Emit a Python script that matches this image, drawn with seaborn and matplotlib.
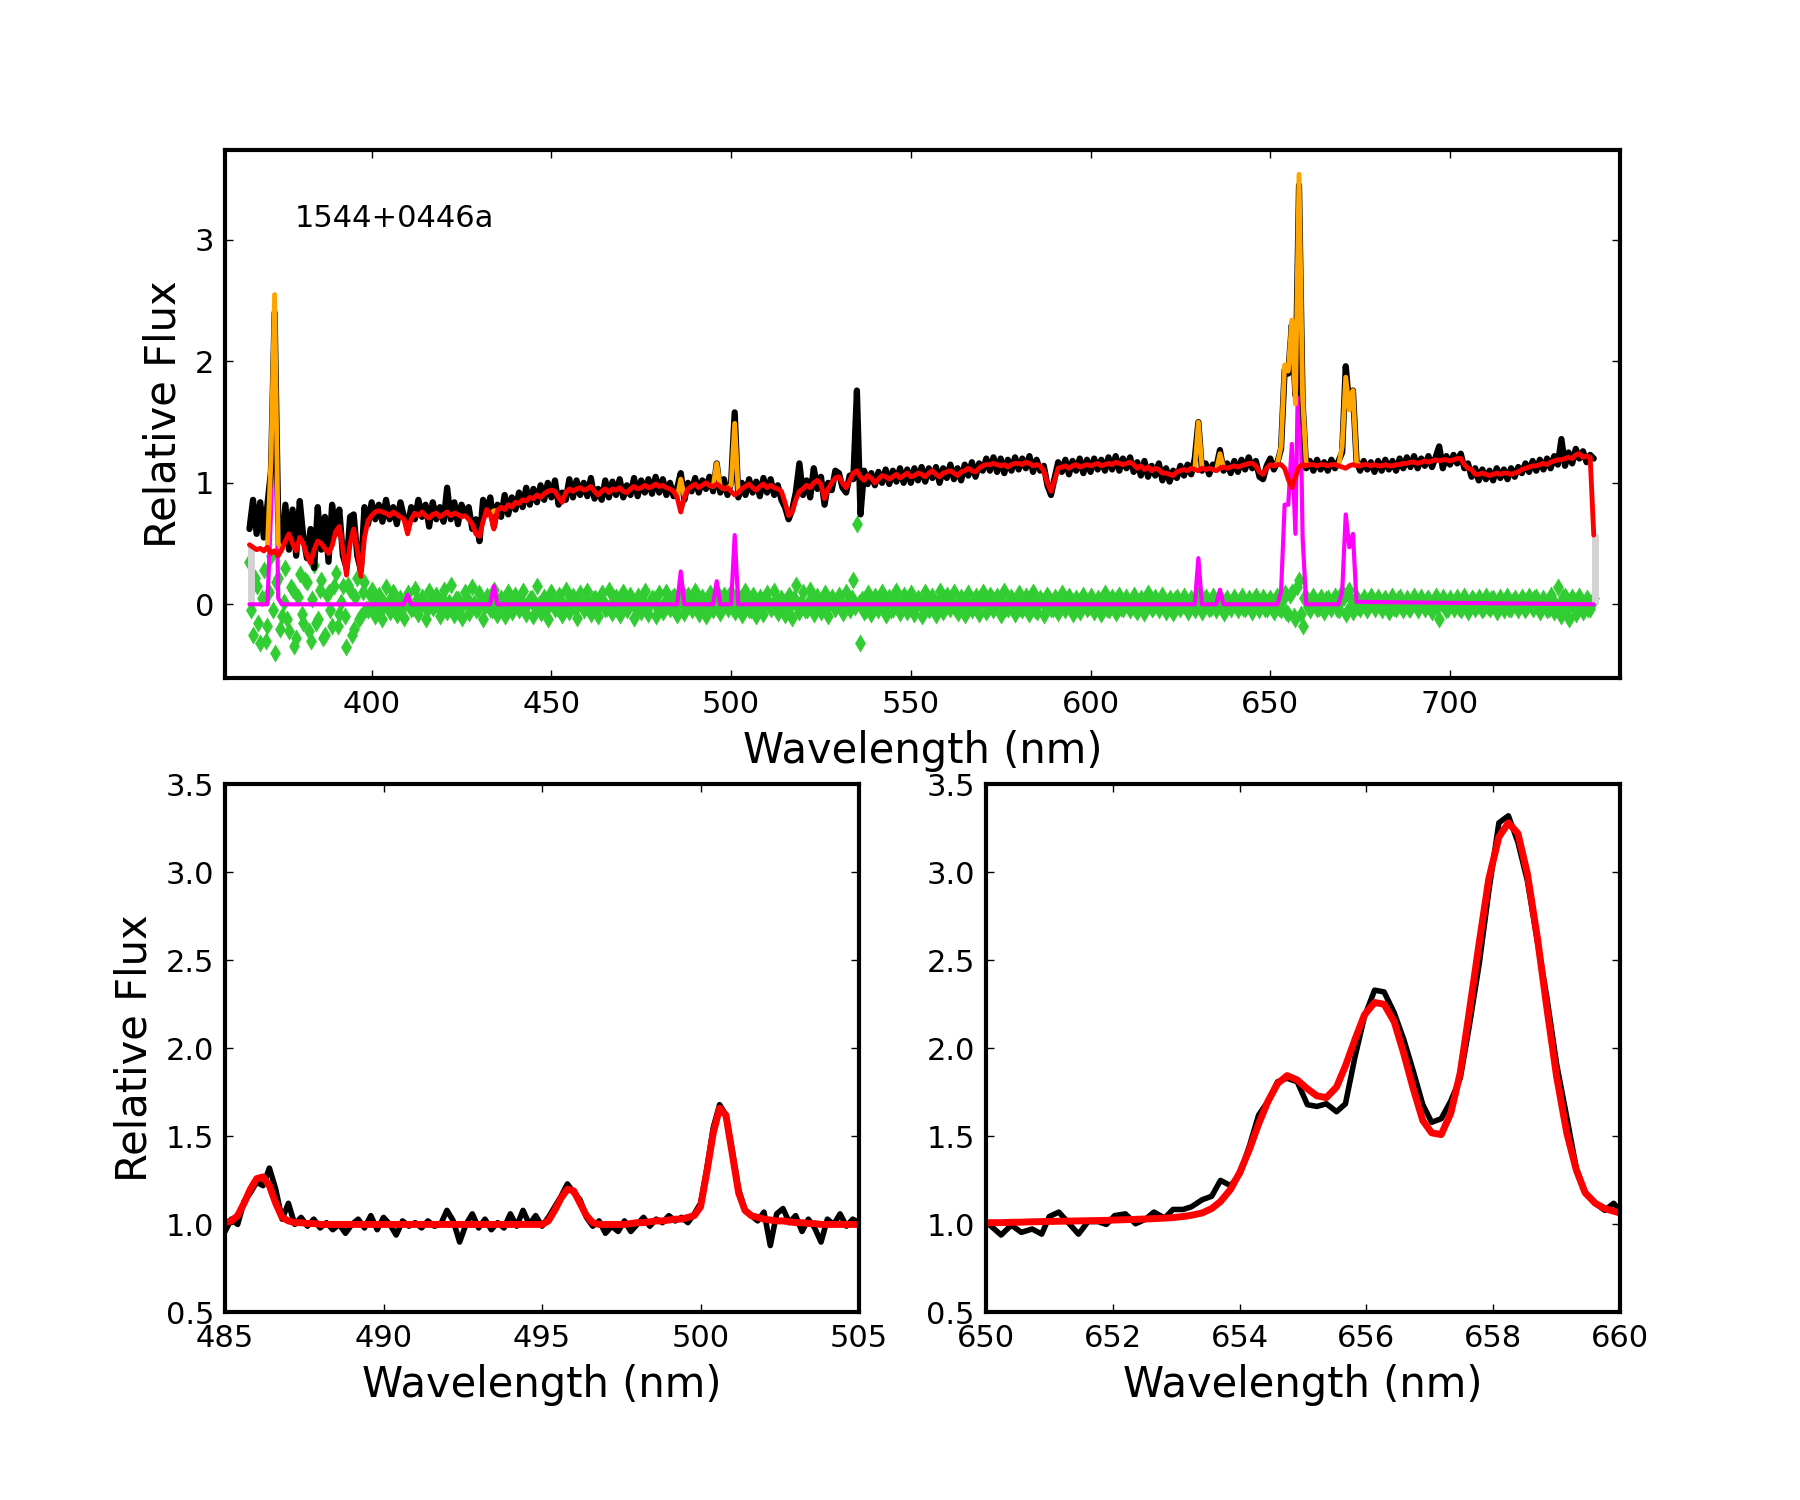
import numpy as np
import pandas as pd
import matplotlib
matplotlib.use('Agg')
import matplotlib.pyplot as plt
import seaborn as sns

# ---- full spectrum, 1 nm sampling (366 .. 740 nm) ----
top_wave = np.arange(366, 741)

obs_top = [
    0.62, 0.86, 0.58, 0.84,
    0.55, 0.82, 1.10, 2.40, 0.70, 0.48, 0.82, 0.45, 0.78, 0.40,
    0.85, 0.55, 0.38, 0.62, 0.30, 0.80, 0.45, 0.72, 0.35, 0.82,
    0.58, 0.78, 0.40, 0.30, 0.72, 0.74, 0.40, 0.28, 0.80, 0.66,
    0.84, 0.70, 0.82, 0.68, 0.86, 0.70, 0.80, 0.66, 0.84, 0.72,
    0.64, 0.80, 0.70, 0.86, 0.72, 0.82, 0.64, 0.84, 0.70, 0.80,
    0.68, 0.96, 0.70, 0.84, 0.66, 0.82, 0.74, 0.80, 0.62, 0.70,
    0.52, 0.86, 0.74, 0.88, 0.64, 0.82, 0.72, 0.90, 0.74, 0.88,
    0.78, 0.92, 0.80, 0.96, 0.82, 0.95, 0.84, 0.98, 0.86, 1.00,
    0.88, 1.02, 0.82, 0.92, 0.86, 1.03, 0.88, 1.02, 0.90, 1.00,
    0.89, 1.04, 0.87, 0.95, 0.86, 1.02, 0.88, 1.01, 0.90, 1.03,
    0.88, 0.98, 0.90, 1.04, 0.89, 1.02, 0.92, 1.03, 0.91, 1.05,
    0.92, 1.03, 0.90, 1.00, 0.89, 0.96, 1.08, 0.86, 1.00, 0.93,
    1.04, 0.92, 1.02, 0.95, 1.05, 0.93, 1.16, 0.92, 1.03, 0.90,
    1.00, 1.58, 0.88, 1.00, 0.90, 1.03, 0.92, 1.01, 0.89, 1.04,
    0.92, 1.03, 0.90, 0.98, 0.86, 0.80, 0.70, 0.78, 0.92, 1.16,
    0.90, 1.02, 0.88, 1.12, 0.95, 1.05, 0.82, 1.00, 0.94, 1.10,
    1.08, 0.96, 0.92, 1.06, 1.03, 1.76, 0.74, 1.10, 0.99, 1.08,
    0.98, 1.09, 1.00, 1.11, 0.99, 1.10, 1.01, 1.12, 1.00, 1.11,
    1.00, 1.12, 1.02, 1.13, 1.01, 1.12, 1.04, 1.13, 1.00, 1.12,
    1.04, 1.15, 1.03, 1.12, 1.02, 1.15, 1.06, 1.17, 1.05, 1.16,
    1.10, 1.20, 1.10, 1.21, 1.09, 1.20, 1.08, 1.19, 1.10, 1.21,
    1.11, 1.20, 1.12, 1.22, 1.09, 1.19, 1.10, 1.14, 0.98, 0.90,
    1.04, 1.17, 1.09, 1.19, 1.07, 1.18, 1.10, 1.20, 1.08, 1.19,
    1.09, 1.20, 1.11, 1.19, 1.10, 1.21, 1.11, 1.22, 1.10, 1.20,
    1.12, 1.21, 1.09, 1.17, 1.06, 1.18, 1.05, 1.14, 1.06, 1.16,
    1.02, 1.12, 1.01, 1.10, 1.04, 1.14, 1.06, 1.15, 1.07, 1.20,
    1.50, 1.10, 1.16, 1.07, 1.15, 1.13, 1.27, 1.10, 1.16, 1.08,
    1.18, 1.09, 1.19, 1.11, 1.21, 1.12, 1.18, 1.05, 1.03, 1.14,
    1.20, 1.11, 1.17, 1.28, 1.93, 1.90, 2.30, 1.72, 3.45, 1.66,
    1.12, 1.18, 1.10, 1.19, 1.11, 1.17, 1.10, 1.19, 1.12, 1.18,
    1.25, 1.96, 1.62, 1.76, 1.18, 1.10, 1.18, 1.11, 1.17, 1.09,
    1.18, 1.10, 1.19, 1.11, 1.18, 1.10, 1.20, 1.12, 1.21, 1.13,
    1.22, 1.12, 1.20, 1.14, 1.22, 1.13, 1.21, 1.30, 1.12, 1.22,
    1.15, 1.23, 1.16, 1.24, 1.12, 1.16, 1.05, 1.12, 1.02, 1.11,
    1.03, 1.10, 1.02, 1.12, 1.04, 1.11, 1.03, 1.12, 1.05, 1.13,
    1.08, 1.16, 1.09, 1.18, 1.10, 1.19, 1.11, 1.20, 1.12, 1.22,
    1.15, 1.36, 1.14, 1.25, 1.16, 1.28, 1.20, 1.26, 1.17, 1.23,
    1.20,
]

cont_top = [
    0.49, 0.47, 0.45, 0.46,
    0.44, 0.47, 0.42, 0.44, 0.40, 0.45, 0.52, 0.58, 0.50, 0.44,
    0.55, 0.50, 0.40, 0.34, 0.45, 0.52, 0.50, 0.46, 0.42, 0.48,
    0.60, 0.64, 0.45, 0.24, 0.50, 0.62, 0.45, 0.23, 0.55, 0.69,
    0.73, 0.76, 0.77, 0.76, 0.75, 0.73, 0.76, 0.74, 0.72, 0.70,
    0.58, 0.70, 0.75, 0.73, 0.76, 0.73, 0.71, 0.74, 0.75, 0.72,
    0.74, 0.76, 0.73, 0.75, 0.74, 0.72, 0.73, 0.70, 0.66, 0.58,
    0.56, 0.68, 0.78, 0.74, 0.62, 0.77, 0.80, 0.78, 0.82, 0.80,
    0.84, 0.83, 0.86, 0.85, 0.88, 0.87, 0.90, 0.88, 0.91, 0.93,
    0.94, 0.93, 0.88, 0.84, 0.92, 0.95, 0.93, 0.95, 0.96, 0.94,
    0.95, 0.97, 0.93, 0.90, 0.93, 0.95, 0.92, 0.95, 0.94, 0.96,
    0.93, 0.92, 0.95, 0.97, 0.95, 0.96, 0.98, 0.96, 0.97, 0.99,
    0.97, 0.98, 0.96, 0.95, 0.93, 0.88, 0.76, 0.88, 0.95, 0.97,
    0.99, 0.96, 0.98, 1.00, 0.98, 0.97, 0.99, 0.97, 0.95, 0.96,
    0.93, 0.90, 0.92, 0.95, 0.97, 0.99, 0.96, 0.94, 0.97, 0.99,
    0.96, 0.98, 0.96, 0.95, 0.93, 0.84, 0.73, 0.76, 0.86, 0.93,
    0.95, 0.98, 0.96, 1.00, 1.02, 0.99, 0.87, 0.95, 1.00, 1.04,
    1.05, 1.00, 0.96, 1.02, 1.08, 1.10, 1.05, 1.02, 1.06, 1.04,
    1.00, 1.03, 1.06, 1.05, 1.03, 1.05, 1.07, 1.04, 1.06, 1.08,
    1.05, 1.06, 1.08, 1.07, 1.05, 1.08, 1.10, 1.07, 1.05, 1.08,
    1.09, 1.10, 1.08, 1.06, 1.09, 1.10, 1.12, 1.10, 1.09, 1.12,
    1.14, 1.15, 1.15, 1.16, 1.15, 1.14, 1.15, 1.13, 1.15, 1.16,
    1.16, 1.15, 1.17, 1.16, 1.14, 1.15, 1.14, 1.10, 1.00, 0.93,
    1.02, 1.12, 1.13, 1.14, 1.12, 1.14, 1.15, 1.13, 1.14, 1.15,
    1.14, 1.15, 1.16, 1.14, 1.15, 1.16, 1.15, 1.17, 1.16, 1.15,
    1.16, 1.17, 1.15, 1.12, 1.14, 1.11, 1.13, 1.10, 1.12, 1.11,
    1.08, 1.08, 1.07, 1.06, 1.09, 1.10, 1.11, 1.10, 1.12, 1.11,
    1.10, 1.12, 1.11, 1.12, 1.11, 1.10, 1.12, 1.13, 1.12, 1.13,
    1.14, 1.13, 1.14, 1.15, 1.16, 1.16, 1.14, 1.09, 1.07, 1.12,
    1.15, 1.14, 1.15, 1.15, 1.12, 1.03, 0.96, 1.05, 1.13, 1.15,
    1.14, 1.15, 1.15, 1.14, 1.15, 1.15, 1.14, 1.15, 1.15, 1.14,
    1.13, 1.12, 1.14, 1.15, 1.14, 1.14, 1.15, 1.15, 1.14, 1.15,
    1.14, 1.14, 1.15, 1.14, 1.14, 1.15, 1.15, 1.16, 1.16, 1.17,
    1.17, 1.16, 1.17, 1.18, 1.17, 1.18, 1.19, 1.18, 1.19, 1.19,
    1.18, 1.19, 1.20, 1.20, 1.15, 1.12, 1.11, 1.07, 1.07, 1.08,
    1.07, 1.06, 1.07, 1.08, 1.07, 1.08, 1.08, 1.07, 1.08, 1.09,
    1.11, 1.12, 1.13, 1.14, 1.14, 1.15, 1.16, 1.15, 1.17, 1.18,
    1.19, 1.19, 1.20, 1.21, 1.20, 1.23, 1.24, 1.21, 1.22, 1.21,
    0.57,
]

# residuals: one set at whole nm, one at the half-nm points in between
resid_top = [
    0.35, -0.25, 0.15, -0.32,
    0.28, -0.18, 0.40, -0.40, 0.22, -0.10, 0.30, -0.22, 0.12, -0.28,
    0.25, -0.15, 0.18, -0.30, 0.32, -0.12, 0.20, -0.25, 0.10, -0.18,
    0.26, -0.08, 0.15, -0.35, 0.12, -0.20, 0.22, -0.10, 0.18, -0.05,
    0.12, -0.10, 0.08, -0.12, 0.14, -0.06, 0.10, -0.09, 0.05, -0.11,
    0.09, -0.04, 0.13, -0.08, 0.06, -0.12, 0.11, -0.03, 0.08, -0.10,
    0.12, -0.06, 0.16, -0.09, 0.04, -0.11, 0.10, -0.07, 0.14, -0.05,
    0.09, -0.12, 0.07, -0.04, 0.12, -0.09, 0.05, -0.10, 0.10, -0.06,
    0.08, -0.05, 0.11, -0.08, 0.04, -0.10, 0.15, -0.07, 0.06, -0.12,
    0.10, -0.04, 0.08, -0.09, 0.12, -0.06, 0.07, -0.11, 0.09, -0.05,
    0.11, -0.08, 0.05, -0.10, 0.09, -0.04, 0.12, -0.07, 0.06, -0.09,
    0.10, -0.05, 0.08, -0.11, 0.07, -0.06, 0.11, -0.08, 0.05, -0.10,
    0.09, -0.06, 0.10, -0.04, 0.07, -0.09, 0.12, -0.07, 0.08, -0.05,
    0.11, -0.08, 0.06, -0.10, 0.09, -0.05, 0.10, -0.07, 0.08, -0.04,
    0.10, -0.06, 0.07, -0.09, 0.11, -0.05, 0.08, -0.10, 0.06, -0.08,
    0.09, -0.04, 0.11, -0.07, 0.05, -0.09, 0.08, -0.11, 0.16, -0.06,
    0.10, -0.05, 0.12, -0.08, 0.07, -0.06, 0.09, -0.10, 0.06, -0.04,
    0.08, -0.07, 0.10, -0.05, 0.20, 0.66, -0.32, -0.06, 0.09, -0.08,
    0.07, -0.05, 0.10, -0.09, 0.06, -0.04, 0.11, -0.07, 0.08, -0.06,
    0.09, -0.08, 0.05, -0.10, 0.10, -0.05, 0.07, -0.09, 0.11, -0.06,
    0.08, -0.04, 0.10, -0.07, 0.06, -0.09, 0.09, -0.05, 0.07, -0.08,
    0.10, -0.06, 0.08, -0.05, 0.07, -0.09, 0.11, -0.04, 0.06, -0.08,
    0.09, -0.05, 0.07, -0.08, 0.10, -0.06, 0.05, -0.09, 0.08, -0.04,
    0.06, -0.07, 0.09, -0.05, 0.07, -0.08, 0.05, -0.06, 0.08, -0.04,
    0.07, -0.06, 0.05, -0.08, 0.09, -0.05, 0.06, -0.07, 0.08, -0.04,
    0.06, -0.05, 0.08, -0.06, 0.05, -0.07, 0.09, -0.04, 0.06, -0.05,
    0.08, -0.06, 0.05, -0.07, 0.06, -0.04, 0.07, -0.06, 0.05, -0.05,
    0.08, -0.06, 0.06, -0.04, 0.07, -0.05, 0.06, -0.07, 0.05, -0.04,
    0.06, -0.05, 0.07, -0.04, 0.05, -0.06, 0.07, -0.05, 0.06, -0.04,
    0.05, -0.06, 0.07, -0.05, 0.09, -0.08, 0.10, -0.12, 0.20, -0.18,
    0.06, -0.05, 0.07, -0.04, 0.06, -0.06, 0.05, -0.04, 0.07, -0.05,
    0.10, -0.08, 0.12, -0.06, 0.05, -0.04, 0.06, -0.05, 0.07, -0.04,
    0.06, -0.05, 0.05, -0.06, 0.07, -0.04, 0.06, -0.05, 0.05, -0.04,
    0.07, -0.05, 0.06, -0.04, 0.05, -0.06, 0.07, -0.12, 0.06, -0.05,
    0.05, -0.04, 0.06, -0.05, 0.07, -0.06, 0.05, -0.04, 0.06, -0.05,
    0.07, -0.04, 0.05, -0.06, 0.06, -0.05, 0.07, -0.04, 0.05, -0.05,
    0.06, -0.05, 0.07, -0.04, 0.06, -0.06, 0.05, -0.05, 0.08, -0.06,
    0.14, -0.10, 0.07, -0.12, 0.06, -0.08, 0.07, -0.06, 0.05, -0.04,
    0.05,
]

half_wave = np.arange(366.5, 740, 1.0)
resid_half = [
    -0.05, 0.22, -0.15, 0.05,
    -0.30, 0.10, -0.05, 0.18, -0.20, 0.02, -0.12, 0.14, -0.34, 0.06,
    -0.08, 0.20, -0.22, 0.04, -0.15, 0.12, -0.28, 0.08, -0.05, 0.15,
    -0.18, 0.02, -0.10, 0.16, -0.25, 0.06, -0.12, 0.10, -0.04, 0.08,
    -0.02, 0.04, -0.05, 0.01, -0.03, 0.05, -0.01, 0.03, -0.04, 0.02,
    0.00, -0.03, 0.04, -0.01, 0.02, -0.05, 0.03, 0.01, -0.02, 0.05,
    -0.04, 0.02, -0.01, 0.04, -0.03, 0.00, 0.05, -0.02, 0.01, -0.04,
    0.03, -0.01, 0.02, -0.05, 0.04, 0.00, -0.03, 0.02, -0.02, 0.05,
    -0.01, 0.03, -0.04, 0.01, 0.05, -0.02, 0.00, 0.03, -0.05, 0.02,
    0.01, -0.03, 0.04, -0.02, 0.00, 0.05, -0.04, 0.02, -0.01, 0.03,
    -0.02, 0.04, -0.05, 0.01, 0.03, -0.03, 0.00, 0.05, -0.02, 0.02,
    0.04, -0.01, 0.02, -0.04, 0.00, 0.03, -0.05, 0.01, 0.04, -0.02,
    -0.03, 0.02, -0.01, 0.05, -0.04, 0.01, 0.03, -0.02, 0.00, 0.04,
    0.02, -0.05, 0.03, 0.00, -0.02, 0.04, -0.03, 0.01, 0.05, -0.01,
    -0.04, 0.03, -0.02, 0.01, 0.04, -0.05, 0.02, 0.00, -0.03, 0.05,
    0.01, -0.02, 0.04, -0.04, 0.03, 0.00, -0.01, 0.05, -0.03, 0.02,
    -0.05, 0.01, 0.03, -0.02, 0.00, 0.04, -0.04, 0.02, -0.01, 0.03,
    0.02, -0.03, 0.00, 0.05, -0.02, 0.01, 0.04, -0.05, 0.03, -0.01,
    0.00, 0.04, -0.03, 0.02, -0.05, 0.03, 0.01, -0.02, 0.05, -0.04,
    0.03, -0.01, 0.02, -0.04, 0.04, 0.00, -0.03, 0.01, -0.02, 0.05,
    -0.02, 0.03, -0.05, 0.01, 0.00, 0.04, -0.01, 0.02, -0.04, 0.03,
    0.01, -0.04, 0.05, -0.02, 0.03, 0.00, -0.03, 0.04, -0.01, 0.02,
    -0.03, 0.02, 0.00, 0.04, -0.05, 0.01, 0.03, -0.02, 0.05, -0.04,
    0.02, 0.00, -0.03, 0.04, -0.01, 0.03, -0.04, 0.01, 0.02, -0.02,
    0.04, -0.02, 0.01, 0.00, -0.04, 0.03, -0.01, 0.05, -0.03, 0.02,
    -0.01, 0.03, -0.04, 0.02, 0.00, -0.02, 0.04, -0.03, 0.01, 0.03,
    0.02, -0.03, 0.01, 0.04, -0.02, 0.00, 0.03, -0.04, 0.02, -0.01,
    -0.02, 0.04, 0.00, -0.03, 0.02, 0.01, -0.04, 0.03, -0.01, 0.02,
    0.03, -0.01, -0.03, 0.02, 0.00, 0.04, -0.02, 0.01, -0.04, 0.03,
    -0.01, 0.02, -0.03, 0.04, -0.06, 0.08, -0.10, 0.14, -0.08, 0.05,
    -0.02, 0.03, 0.00, -0.03, 0.02, 0.04, -0.01, 0.01, -0.04, 0.02,
    0.06, -0.05, 0.04, 0.00, -0.02, 0.03, -0.03, 0.01, 0.02, -0.01,
    0.00, 0.03, -0.02, 0.02, -0.03, 0.04, -0.01, 0.01, -0.04, 0.02,
    0.03, -0.01, 0.00, 0.04, -0.03, 0.02, -0.02, 0.01, 0.03, -0.04,
    0.01, 0.02, -0.03, 0.03, 0.00, -0.02, 0.04, -0.01, 0.02, -0.03,
    -0.02, 0.04, 0.01, -0.03, 0.02, 0.00, -0.04, 0.03, -0.01, 0.02,
    0.03, -0.02, 0.00, 0.05, -0.03, 0.01, 0.02, -0.04, 0.04, -0.01,
    0.00, 0.06, -0.05, 0.03, -0.02, 0.04, -0.03, 0.02, -0.04, 0.01,
]

# total model (continuum + lines) around the emission lines; nan separates windows
model_wave = [370, 371, 372, 373, 374, 375, np.nan,
              433, 434, 435, np.nan,
              485, 486, 487, np.nan,
              494, 495, 496, 497, 498, 499, 500, 501, 502, np.nan,
              629, 630, 631, np.nan,
              635, 636, 637, np.nan,
              651, 652, 653, 654, 655, 656, 657, 658, 659, 660, 661, np.nan,
              669, 670, 671, 672, 673, 674, 675]
model_flux = [0.44, 0.47, 1.20, 2.55, 0.50, 0.45, np.nan,
              0.74, 0.77, 0.77, np.nan,
              0.88, 1.03, 0.88, np.nan,
              0.98, 0.97, 1.16, 0.97, 0.95, 0.96, 0.98, 1.49, 0.92, np.nan,
              1.11, 1.50, 1.13, np.nan,
              1.10, 1.24, 1.13, np.nan,
              1.14, 1.16, 1.30, 1.97, 1.92, 2.34, 1.65, 3.54, 1.70, 1.15, 1.15, np.nan,
              1.14, 1.30, 1.87, 1.60, 1.76, 1.17, 1.14]

# emission-line-only model
lines_wave = [366, 371, 372, 373, 374, 375, 409, 410, 411, 433, 434, 435,
              485, 486, 487, 495, 496, 497, 500, 501, 502, 629, 630, 631,
              635, 636, 637, 652, 653, 654, 655, 656, 657, 658, 659, 660,
              669, 670, 671, 672, 673, 674, 740]
lines_flux = [0.0, 0.0, 0.75, 2.10, 0.05, 0.0, 0.0, 0.08, 0.0, 0.0, 0.15, 0.0,
              0.0, 0.27, 0.0, 0.0, 0.19, 0.0, 0.0, 0.57, 0.0, 0.0, 0.38, 0.0,
              0.0, 0.12, 0.0, 0.0, 0.10, 0.82, 0.82, 1.32, 0.58, 2.40, 0.55, 0.0,
              0.0, 0.10, 0.74, 0.47, 0.58, 0.02, 0.0]

# masked pixels at the two ends
mask_wave = [366.3, 740.4]
mask_top = [0.48, 0.58]

# ---- zoom on H-beta / [OIII] (0.2 nm sampling) ----
hb_wave = np.round(np.arange(485.0, 505.01, 0.2), 1)
hb_obs = [
    0.96, 1.03, 1.00, 1.13, 1.18, 1.24, 1.22, 1.32, 1.20, 1.03,
    1.12, 1.00, 1.04, 0.99, 1.03, 0.98, 1.01, 0.97, 1.00, 0.95,
    1.00, 1.03, 0.98, 1.05, 0.97, 1.04, 1.00, 0.94, 1.02, 0.99,
    1.01, 0.98, 1.02, 0.99, 1.00, 1.08, 1.02, 0.90, 1.00, 1.06,
    0.98, 1.03, 0.97, 1.01, 0.98, 1.06, 0.99, 1.08, 1.00, 1.05,
    0.99, 1.04, 1.10, 1.16, 1.23, 1.18, 1.14, 1.04, 0.99, 1.02,
    0.95, 0.99, 0.96, 1.02, 0.96, 1.00, 1.04, 0.99, 1.03, 1.01,
    1.05, 1.02, 1.04, 1.01, 1.06, 1.12, 1.32, 1.55, 1.68, 1.62,
    1.42, 1.20, 1.08, 1.05, 1.02, 1.07, 0.88, 1.06, 1.09, 1.01,
    1.05, 0.96, 1.03, 0.98, 0.90, 1.03, 1.00, 1.06, 0.99, 1.03,
    1.01,
]
hb_model = [
    1.01, 1.02, 1.05, 1.12, 1.20, 1.26, 1.27, 1.22, 1.12, 1.04,
    1.02, 1.01, 1.01, 1.005, 1.005, 1.0, 1.0, 1.0, 1.0, 1.0,
    1.0, 1.0, 1.0, 1.0, 1.0, 1.0, 1.0, 1.0, 1.0, 1.0,
    1.0, 1.0, 1.0, 1.0, 1.0, 1.0, 1.0, 1.0, 1.0, 1.0,
    1.0, 1.0, 1.0, 1.0, 1.0, 1.0, 1.0, 1.0, 1.0, 1.0,
    1.0, 1.02, 1.08, 1.15, 1.20, 1.19, 1.12, 1.05, 1.01, 1.0,
    1.0, 1.0, 1.0, 1.0, 1.005, 1.01, 1.01, 1.015, 1.02, 1.02,
    1.025, 1.03, 1.03, 1.04, 1.05, 1.10, 1.30, 1.52, 1.66, 1.62,
    1.40, 1.18, 1.08, 1.05, 1.04, 1.03, 1.025, 1.02, 1.02, 1.015,
    1.01, 1.01, 1.005, 1.005, 1.0, 1.0, 1.0, 1.0, 1.0, 1.0,
    1.0,
]

# ---- zoom on H-alpha / [NII] ----
ha_wave = [650.00, 650.24, 650.40, 650.56, 650.73, 650.88, 651.00, 651.15, 651.30, 651.46,
           651.61, 651.77, 651.90, 652.03, 652.20, 652.36, 652.52, 652.65, 652.82, 652.95,
           653.11, 653.24, 653.41, 653.56, 653.70, 653.86, 654.01, 654.16, 654.30, 654.45,
           654.60, 654.75, 654.91, 655.07, 655.22, 655.37, 655.53, 655.67, 655.82, 655.97,
           656.13, 656.28, 656.44, 656.59, 656.74, 656.89, 657.03, 657.18, 657.33, 657.48,
           657.62, 657.78, 657.93, 658.09, 658.24, 658.39, 658.54, 658.70, 658.85, 659.00,
           659.16, 659.31, 659.45, 659.61, 659.76, 659.90, 660.00]
ha_obs = [1.016, 0.94, 0.996, 0.955, 0.974, 0.945, 1.045, 1.07, 1.01, 0.945,
          1.016, 1.016, 1.00, 1.05, 1.06, 1.004, 1.03, 1.07, 1.036, 1.085,
          1.085, 1.10, 1.14, 1.16, 1.25, 1.22, 1.29, 1.45, 1.62, 1.70,
          1.81, 1.83, 1.81, 1.68, 1.67, 1.685, 1.64, 1.685, 1.95, 2.18,
          2.33, 2.32, 2.20, 2.05, 1.87, 1.68, 1.58, 1.60, 1.70, 1.83,
          2.12, 2.48, 2.89, 3.28, 3.32, 3.17, 2.95, 2.60, 2.28, 1.91,
          1.61, 1.32, 1.18, 1.12, 1.08, 1.12, 1.08]
ha_model = [1.01, 1.01, 1.012, 1.013, 1.015, 1.016, 1.017, 1.018, 1.019, 1.02,
            1.021, 1.022, 1.023, 1.025, 1.027, 1.029, 1.031, 1.033, 1.036, 1.039,
            1.045, 1.052, 1.065, 1.09, 1.13, 1.20, 1.30, 1.43, 1.57, 1.70,
            1.80, 1.845, 1.82, 1.77, 1.73, 1.72, 1.78, 1.90, 2.05, 2.19,
            2.26, 2.25, 2.15, 1.97, 1.77, 1.59, 1.52, 1.51, 1.63, 1.86,
            2.20, 2.60, 2.96, 3.20, 3.28, 3.22, 2.99, 2.62, 2.22, 1.84,
            1.52, 1.31, 1.18, 1.12, 1.09, 1.075, 1.065]

object_name = '1544+0446a'

# ---- style ----
sns.set_style('ticks')
plt.rcParams.update({
    'font.family': ['DejaVu Sans'],
    'text.color': 'black',
    'axes.linewidth': 3,
    'axes.edgecolor': 'black',
    'xtick.direction': 'in',
    'ytick.direction': 'in',
    'xtick.top': True,
    'ytick.right': True,
    'xtick.major.size': 6,
    'ytick.major.size': 6,
    'xtick.major.width': 1,
    'ytick.major.width': 1,
    'xtick.major.pad': 8,
    'ytick.major.pad': 8,
    'xtick.color': 'black',
    'ytick.color': 'black',
    'xtick.labelsize': 22,
    'ytick.labelsize': 22,
    'axes.labelsize': 30,
    'axes.labelcolor': 'black',
})

fig = plt.figure(figsize=(18, 15), dpi=100)
gs = fig.add_gridspec(2, 2, left=0.125, right=0.9, top=0.9, bottom=0.125,
                      hspace=0.2, wspace=0.2)
ax = fig.add_subplot(gs[0, :])
ax_hb = fig.add_subplot(gs[1, 0])
ax_ha = fig.add_subplot(gs[1, 1])

# top panel: full spectrum
sns.scatterplot(x=top_wave, y=resid_top, marker='d', s=85, color='limegreen',
                linewidth=0, ax=ax, zorder=1)
sns.scatterplot(x=half_wave, y=resid_half, marker='d', s=85, color='limegreen',
                linewidth=0, ax=ax, zorder=1)
ax.vlines(mask_wave, 0, mask_top, colors='lightgrey', lw=5, zorder=1.5)
sns.lineplot(x=lines_wave, y=lines_flux, color='magenta', lw=3, ax=ax,
             estimator=None, sort=False, zorder=2)
sns.lineplot(x=top_wave, y=obs_top, color='black', lw=4.5, ax=ax,
             estimator=None, sort=False, zorder=3)
model = pd.DataFrame({'wave': model_wave, 'flux': model_flux})
model['seg'] = model['flux'].isna().cumsum()
model = model.dropna()
sns.lineplot(data=model, x='wave', y='flux', units='seg', estimator=None,
             sort=False, color='orange', lw=3.5, ax=ax, zorder=4)
sns.lineplot(x=top_wave, y=cont_top, color='red', lw=3.5, ax=ax,
             estimator=None, sort=False, zorder=5)

ax.set_xlim(359.2, 747.3)
ax.set_ylim(-0.61, 3.74)
ax.set_xticks([400, 450, 500, 550, 600, 650, 700])
ax.set_yticks([0, 1, 2, 3])
ax.set_xlabel('Wavelength (nm)', labelpad=8)
ax.set_ylabel('Relative Flux', labelpad=7)
ax.text(0.05, 0.87, object_name, transform=ax.transAxes, fontsize=22,
        color='black', va='center', ha='left')

# bottom left: H-beta / [OIII]
sns.lineplot(x=hb_wave, y=hb_obs, color='black', lw=4, ax=ax_hb,
             estimator=None, sort=False)
sns.lineplot(x=hb_wave, y=hb_model, color='red', lw=5, ax=ax_hb,
             estimator=None, sort=False)
ax_hb.set_xlim(485, 505)
ax_hb.set_ylim(0.5, 3.5)
ax_hb.set_xticks([485, 490, 495, 500, 505])
ax_hb.set_yticks([0.5, 1.0, 1.5, 2.0, 2.5, 3.0, 3.5])
ax_hb.set_xlabel('Wavelength (nm)', labelpad=8)
ax_hb.set_ylabel('Relative Flux', labelpad=7)

# bottom right: H-alpha / [NII]
sns.lineplot(x=ha_wave, y=ha_obs, color='black', lw=4, ax=ax_ha,
             estimator=None, sort=False)
sns.lineplot(x=ha_wave, y=ha_model, color='red', lw=5, ax=ax_ha,
             estimator=None, sort=False)
ax_ha.set_xlim(650, 660)
ax_ha.set_ylim(0.5, 3.5)
ax_ha.set_xticks([650, 652, 654, 656, 658, 660])
ax_ha.set_yticks([0.5, 1.0, 1.5, 2.0, 2.5, 3.0, 3.5])
ax_ha.set_xlabel('Wavelength (nm)', labelpad=8)
ax_ha.set_ylabel('')

for a in (ax, ax_hb, ax_ha):
    for sp in a.spines.values():
        sp.set_visible(True)
        sp.set_linewidth(3)

fig.savefig('out.png', dpi=100)
